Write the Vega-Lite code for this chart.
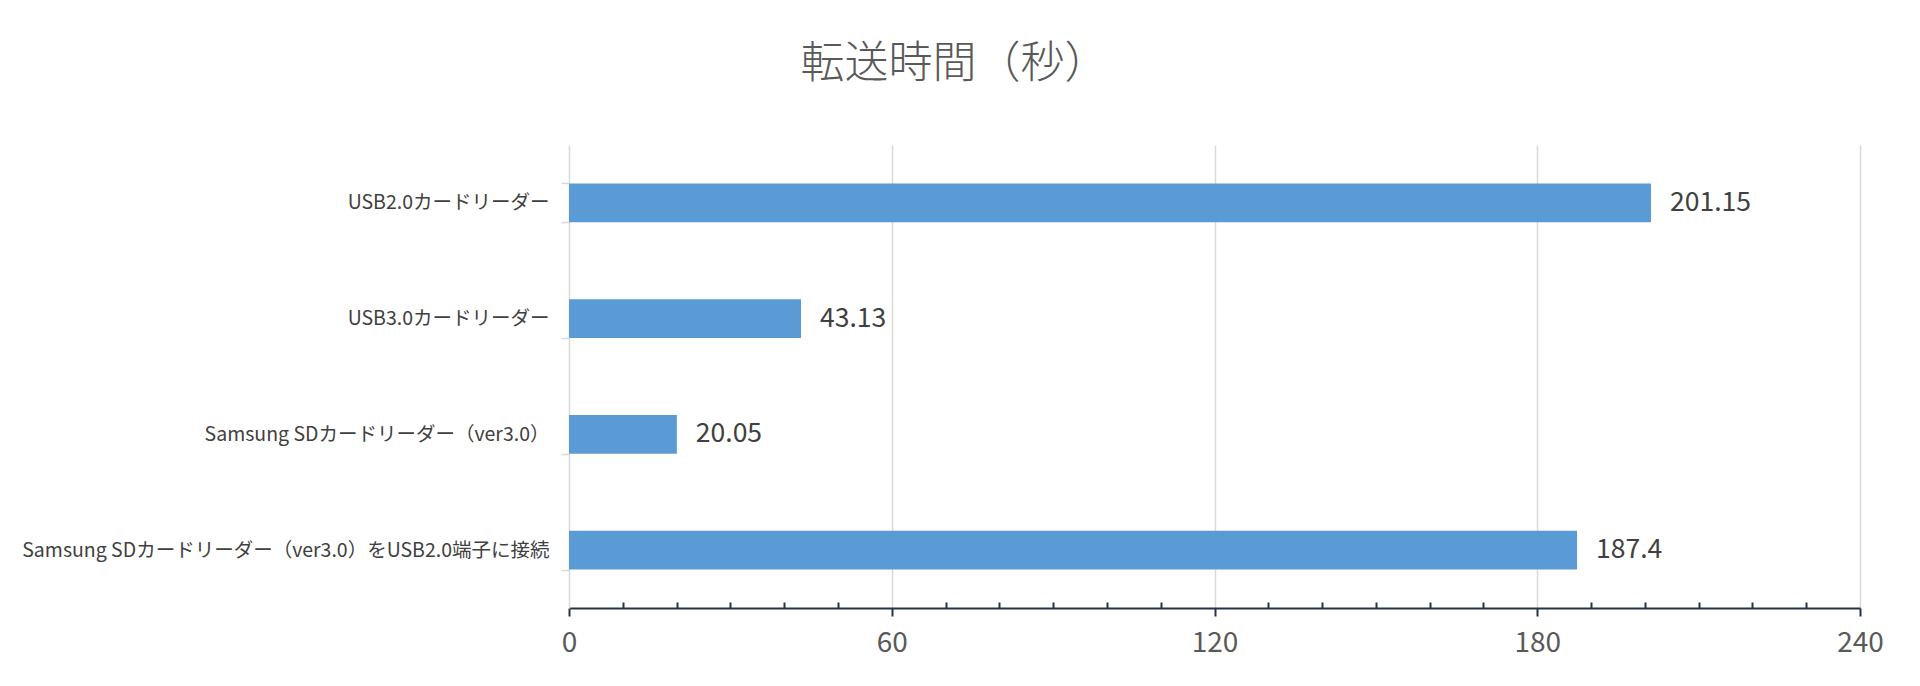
{
  "$schema": "https://vega.github.io/schema/vega-lite/v6.json",
  "autosize": "none",
  "width": 1291,
  "height": 463,
  "padding": {"left": 569, "top": 145, "right": 60, "bottom": 78},
  "background": "white",
  "title": {
    "text": "転送時間（秒）",
    "font": "Noto Sans CJK JP",
    "fontSize": 44,
    "fontWeight": 300,
    "color": "#595959",
    "anchor": "middle",
    "frame": "group",
    "dx": -260,
    "offset": 48
  },
  "data": {
    "values": [
      {"reader": "USB2.0カードリーダー", "seconds": 201.15},
      {"reader": "USB3.0カードリーダー", "seconds": 43.13},
      {"reader": "Samsung SDカードリーダー（ver3.0）", "seconds": 20.05},
      {"reader": "Samsung SDカードリーダー（ver3.0）をUSB2.0端子に接続", "seconds": 187.4}
    ]
  },
  "encoding": {
    "y": {
      "field": "reader",
      "type": "nominal",
      "sort": null,
      "title": null,
      "scale": {"paddingInner": 0.664, "paddingOuter": 0.332},
      "axis": {
        "labelFont": "Noto Sans CJK JP",
        "labelFontSize": 19.5,
        "labelColor": "#404040",
        "labelPadding": 12,
        "labelLimit": 0,
        "domainColor": "#d9d9d9",
        "domainWidth": 1.5,
        "tickColor": "#d9d9d9",
        "tickWidth": 1.5,
        "tickSize": 8,
        "tickBand": "extent",
        "grid": false
      }
    },
    "x": {
      "field": "seconds",
      "type": "quantitative",
      "title": null,
      "scale": {"domain": [0, 240], "nice": false},
      "axis": {
        "values": [0, 10, 20, 30, 40, 50, 60, 70, 80, 90, 100, 110, 120, 130, 140, 150, 160, 170, 180, 190, 200, 210, 220, 230, 240],
        "labelExpr": "datum.value % 60 === 0 ? datum.label : ''",
        "labelFlush": false,
        "labelOverlap": false,
        "labelFont": "Noto Sans CJK JP",
        "labelFontSize": 28,
        "labelColor": "#595959",
        "labelPadding": 13,
        "domainColor": "#243447",
        "domainWidth": 2,
        "tickColor": "#243447",
        "tickWidth": 2,
        "tickSize": {"condition": {"test": "datum.value % 60 === 0", "value": 8}, "value": -6},
        "grid": true,
        "gridColor": "#d9d9d9",
        "gridWidth": 1.5,
        "gridOpacity": {"condition": {"test": "datum.value % 60 === 0 && datum.value > 0", "value": 1}, "value": 0}
      }
    }
  },
  "layer": [
    {
      "mark": {"type": "bar", "color": "#5b9bd5"}
    },
    {
      "mark": {
        "type": "text",
        "align": "left",
        "baseline": "middle",
        "dx": 19,
        "font": "Noto Sans CJK JP",
        "fontSize": 26.5,
        "color": "#404040"
      },
      "encoding": {
        "text": {"field": "seconds", "type": "nominal"}
      }
    }
  ],
  "config": {
    "view": {"stroke": null}
  }
}
